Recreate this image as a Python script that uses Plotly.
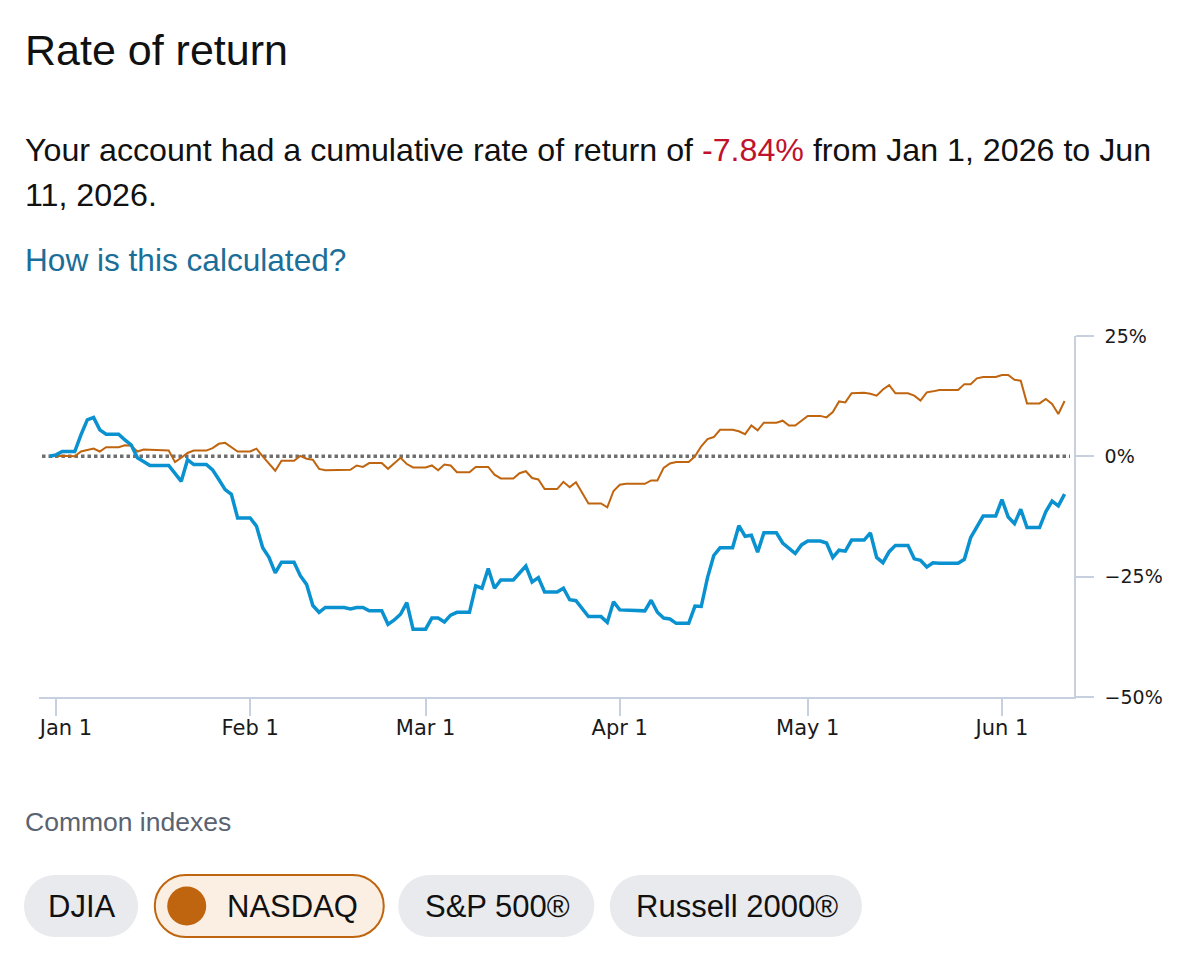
import plotly.graph_objects as go

# ---------------- data ----------------
account_dates = [
    "2025-12-31", "2026-01-01", "2026-01-02", "2026-01-04", "2026-01-05", "2026-01-06", "2026-01-07",
    "2026-01-08", "2026-01-09", "2026-01-11", "2026-01-12", "2026-01-13", "2026-01-14", "2026-01-15",
    "2026-01-16", "2026-01-19", "2026-01-21", "2026-01-22", "2026-01-23", "2026-01-25", "2026-01-26",
    "2026-01-27", "2026-01-28", "2026-01-29", "2026-01-30", "2026-02-01", "2026-02-02", "2026-02-03",
    "2026-02-04", "2026-02-05", "2026-02-06", "2026-02-08", "2026-02-09", "2026-02-10", "2026-02-11",
    "2026-02-12", "2026-02-13", "2026-02-16", "2026-02-17", "2026-02-18", "2026-02-19", "2026-02-20",
    "2026-02-22", "2026-02-23", "2026-02-24", "2026-02-25", "2026-02-26", "2026-02-27", "2026-03-01",
    "2026-03-02", "2026-03-03", "2026-03-04", "2026-03-05", "2026-03-06", "2026-03-08", "2026-03-09",
    "2026-03-10", "2026-03-11", "2026-03-12", "2026-03-13", "2026-03-15", "2026-03-17", "2026-03-18",
    "2026-03-19", "2026-03-20", "2026-03-22", "2026-03-23", "2026-03-24", "2026-03-25", "2026-03-27",
    "2026-03-29", "2026-03-30", "2026-03-31", "2026-04-01", "2026-04-05", "2026-04-06", "2026-04-07",
    "2026-04-08", "2026-04-09", "2026-04-10", "2026-04-12", "2026-04-13", "2026-04-14", "2026-04-15",
    "2026-04-16", "2026-04-17", "2026-04-19", "2026-04-20", "2026-04-21", "2026-04-22", "2026-04-23",
    "2026-04-24", "2026-04-26", "2026-04-27", "2026-04-29", "2026-04-30", "2026-05-01", "2026-05-03",
    "2026-05-04", "2026-05-05", "2026-05-06", "2026-05-07", "2026-05-08", "2026-05-10", "2026-05-11",
    "2026-05-12", "2026-05-13", "2026-05-14", "2026-05-15", "2026-05-17", "2026-05-18", "2026-05-19",
    "2026-05-20", "2026-05-21", "2026-05-22", "2026-05-25", "2026-05-26", "2026-05-27", "2026-05-29",
    "2026-05-31", "2026-06-01", "2026-06-02", "2026-06-03", "2026-06-04", "2026-06-05", "2026-06-07",
    "2026-06-08", "2026-06-09", "2026-06-10", "2026-06-11",
]
account_returns = [
    0.0, 0.3, 1.0, 1.0, 4.5, 7.6, 8.1,
    5.5, 4.6, 4.6, 3.4, 2.4, -0.3, -1.0,
    -1.9, -1.9, -5.2, -0.7, -1.7, -1.7, -2.8,
    -4.8, -6.9, -7.9, -12.8, -12.8, -14.5, -19.0,
    -21.0, -24.2, -22.0, -22.0, -24.8, -26.6, -31.0,
    -32.4, -31.4, -31.4, -31.7, -31.4, -31.4, -32.1,
    -32.1, -34.9, -34.0, -32.8, -30.4, -35.9, -35.9,
    -33.6, -33.6, -34.4, -33.0, -32.4, -32.4, -26.9,
    -27.4, -23.3, -27.4, -25.7, -25.7, -22.8, -26.1,
    -25.2, -28.2, -28.2, -27.4, -29.8, -30.0, -33.3,
    -33.3, -34.5, -30.2, -31.9, -32.1, -29.9, -32.4,
    -33.6, -33.8, -34.7, -34.7, -31.1, -31.2, -25.2,
    -20.6, -19.0, -19.0, -14.4, -16.6, -16.4, -19.9,
    -15.9, -15.9, -18.0, -20.2, -18.4, -17.6, -17.6,
    -18.0, -21.0, -19.5, -19.7, -17.4, -17.4, -15.9,
    -21.0, -22.1, -19.8, -18.5, -18.5, -21.3, -21.6,
    -23.0, -22.1, -22.2, -22.2, -21.4, -16.9, -12.4,
    -12.4, -9.0, -12.6, -14.0, -11.0, -14.8, -14.8,
    -11.5, -9.3, -10.3, -7.84,
]

nasdaq_dates = [
    "2025-12-31", "2026-01-02", "2026-01-04", "2026-01-05", "2026-01-07", "2026-01-08", "2026-01-09",
    "2026-01-11", "2026-01-12", "2026-01-13", "2026-01-14", "2026-01-15", "2026-01-19", "2026-01-20",
    "2026-01-21", "2026-01-22", "2026-01-23", "2026-01-25", "2026-01-26", "2026-01-27", "2026-01-28",
    "2026-01-29", "2026-01-30", "2026-02-01", "2026-02-02", "2026-02-03", "2026-02-05", "2026-02-06",
    "2026-02-08", "2026-02-09", "2026-02-10", "2026-02-11", "2026-02-12", "2026-02-13", "2026-02-16",
    "2026-02-17", "2026-02-18", "2026-02-19", "2026-02-20", "2026-02-22", "2026-02-23", "2026-02-25",
    "2026-02-26", "2026-02-27", "2026-03-01", "2026-03-02", "2026-03-03", "2026-03-04", "2026-03-05",
    "2026-03-06", "2026-03-08", "2026-03-09", "2026-03-11", "2026-03-12", "2026-03-13", "2026-03-15",
    "2026-03-16", "2026-03-17", "2026-03-18", "2026-03-19", "2026-03-20", "2026-03-22", "2026-03-23",
    "2026-03-24", "2026-03-25", "2026-03-26", "2026-03-27", "2026-03-29", "2026-03-30", "2026-03-31",
    "2026-04-01", "2026-04-02", "2026-04-05", "2026-04-06", "2026-04-07", "2026-04-08", "2026-04-09",
    "2026-04-10", "2026-04-12", "2026-04-13", "2026-04-14", "2026-04-15", "2026-04-16", "2026-04-17",
    "2026-04-19", "2026-04-20", "2026-04-21", "2026-04-22", "2026-04-23", "2026-04-24", "2026-04-26",
    "2026-04-27", "2026-04-28", "2026-04-29", "2026-04-30", "2026-05-01", "2026-05-03", "2026-05-04",
    "2026-05-05", "2026-05-06", "2026-05-07", "2026-05-08", "2026-05-10", "2026-05-11", "2026-05-12",
    "2026-05-13", "2026-05-14", "2026-05-15", "2026-05-17", "2026-05-18", "2026-05-19", "2026-05-20",
    "2026-05-21", "2026-05-22", "2026-05-25", "2026-05-26", "2026-05-27", "2026-05-28", "2026-05-29",
    "2026-05-31", "2026-06-01", "2026-06-02", "2026-06-03", "2026-06-04", "2026-06-05", "2026-06-07",
    "2026-06-08", "2026-06-09", "2026-06-10", "2026-06-11",
]
nasdaq_returns = [
    0.0, 0.1, 0.0, 1.0, 1.6, 1.0, 1.9,
    1.9, 2.3, 2.2, 1.0, 1.4, 1.2, -1.2,
    -0.3, 0.7, 1.2, 1.2, 1.7, 2.6, 2.8,
    1.9, 1.0, 1.0, 1.6, 0.0, -3.0, -0.9,
    -0.9, 0.1, -0.5, -0.7, -2.6, -2.9, -2.9,
    -2.8, -1.9, -2.2, -1.4, -1.4, -2.6, -0.3,
    -1.6, -2.3, -2.3, -1.9, -2.9, -1.7, -1.9,
    -3.3, -3.3, -2.2, -2.2, -3.8, -4.6, -4.6,
    -3.5, -3.1, -4.5, -4.8, -6.8, -6.8, -5.3,
    -6.4, -5.4, -7.6, -9.8, -9.8, -10.6, -7.2,
    -5.9, -5.7, -5.7, -5.0, -5.0, -2.4, -1.5,
    -1.2, -1.2, 0.0, 2.1, 3.6, 4.0, 5.5,
    5.5, 5.2, 4.6, 6.4, 5.4, 7.0, 7.0,
    7.4, 6.4, 6.4, 7.4, 8.4, 8.4, 8.1,
    9.2, 11.4, 11.2, 13.1, 13.2, 13.0, 12.6,
    13.9, 14.8, 13.1, 13.1, 12.6, 11.6, 13.3,
    13.5, 13.8, 13.8, 15.0, 15.0, 16.2, 16.5,
    16.5, 16.9, 16.9, 15.9, 15.7, 11.0, 11.0,
    11.9, 10.9, 8.8, 11.5,
]

x_tick_dates = ["2026-01-01", "2026-02-01", "2026-03-01", "2026-04-01", "2026-05-01", "2026-06-01"]
x_tick_labels = ["Jan 1", "Feb 1", "Mar 1", "Apr 1", "May 1", "Jun 1"]
y_tick_values = [-50, -25, 0, 25]
y_tick_labels = ["\u221250%", "\u221225%", "0%", "25%"]
index_names = ["DJIA", "NASDAQ", "S&P 500®", "Russell 2000®"]

# ---------------- styling ----------------
OFF = 8                     # page body margin of the html page
W, H = 1200 - OFF, 963 - OFF
# plot-area box in screen pixels
SL, SR, ST, SB = 37, 1074, 336, 697
BLUE = "#0a91cf"
ORANGE = "#c0650f"
AXIS = "#c6d0de"
TEXT_FONT = "Liberation Sans, Arial, sans-serif"
AXIS_FONT = "DejaVu Sans, Verdana, sans-serif"


def px(x):
    return (x - SL) / (SR - SL)


def py(y):
    return (SB - y) / (SB - ST)


# the first date label is nudged right so that it stays inside the plot edge
x_tick_text = ["\u00a0\u00a0\u00a0" + x_tick_labels[0]] + x_tick_labels[1:]

fig = go.Figure()

fig.add_trace(go.Scatter(
    x=nasdaq_dates, y=nasdaq_returns, mode="lines", name="NASDAQ",
    line=dict(color=ORANGE, width=2), hoverinfo="skip"))
fig.add_trace(go.Scatter(
    x=account_dates, y=account_returns, mode="lines", name="Account",
    line=dict(color=BLUE, width=3.5), hoverinfo="skip"))

shapes = []
# dotted zero line
shapes.append(dict(type="line", xref="paper", yref="y", x0=px(40), x1=px(1070), y0=0, y1=0,
                   line=dict(color="#6f6f6f", width=3.5, dash="3.5px,3px"), layer="below"))

# index pills
pill_boxes = [(22, 136), (153, 382), (397, 593), (609, 861)]
pill_yc, pill_h = 906, 62


def pill_path(w, h):
    r = h / 2
    k = 0.5523 * r
    return (f"M {r},{-r} L {w - r},{-r} C {w - r + k},{-r} {w},{-k} {w},0 "
            f"C {w},{k} {w - r + k},{r} {w - r},{r} L {r},{r} "
            f"C {r - k},{r} 0,{k} 0,0 C 0,{-k} {r - k},{-r} {r},{-r} Z")


annotations = []
for name, (x0, x1) in zip(index_names, pill_boxes):
    active = name == "NASDAQ"
    shapes.append(dict(
        type="path", xref="paper", yref="paper", xsizemode="pixel", ysizemode="pixel",
        xanchor=px(x0), yanchor=py(pill_yc), path=pill_path(x1 - x0, pill_h),
        fillcolor="#fbeee2" if active else "#e8eaed",
        line=dict(color=ORANGE if active else "rgba(0,0,0,0)", width=2 if active else 0),
        layer="above"))
    if active:
        shapes.append(dict(
            type="circle", xref="paper", yref="paper", xsizemode="pixel", ysizemode="pixel",
            xanchor=px(185), yanchor=py(pill_yc), x0=-19.5, x1=19.5, y0=-19.5, y1=19.5,
            fillcolor=ORANGE, line=dict(width=0), layer="above"))
        cx = 291
    else:
        cx = (x0 + x1) / 2 + 1
    annotations.append(dict(
        text=name, xref="paper", yref="paper", x=px(cx), y=py(pill_yc),
        xanchor="center", yanchor="middle", showarrow=False,
        font=dict(family=TEXT_FONT, size=31, color="#111111")))

final_return = account_returns[-1]
texts = [
    ("Rate of return", 21, 50, 43, "#111111"),
    ("Your account had a cumulative rate of return of "
     f"<span style='color:#c0122c'>{final_return:.2f}%</span> from Jan 1, 2026 to Jun",
     21, 150, 32.2, "#111111"),
    ("11, 2026.", 21, 195, 32.2, "#111111"),
    ("How is this calculated?", 21, 260, 31.6, "#1a6e98"),
    ("Common indexes", 21, 822, 26.5, "#5a6371"),
]
for t, x, y, s, c in texts:
    annotations.append(dict(
        text=t, xref="paper", yref="paper", x=px(x), y=py(y),
        xanchor="left", yanchor="middle", showarrow=False, align="left",
        font=dict(family=TEXT_FONT, size=s, color=c)))

fig.update_layout(
    width=W, height=H,
    margin=dict(l=SL - OFF, r=W - (SR - OFF), t=ST - OFF, b=H - (SB - OFF), pad=0),
    paper_bgcolor="white", plot_bgcolor="white",
    showlegend=False,
    shapes=shapes, annotations=annotations,
    xaxis=dict(
        type="date", range=["2025-12-29 07:00", "2026-06-12 12:00"],
        tickvals=x_tick_dates, ticktext=x_tick_text,
        showline=True, linecolor=AXIS, linewidth=1.5,
        ticks="outside", ticklen=17, tickwidth=1.5, tickcolor=AXIS,
        ticklabelstandoff=-6,
        showgrid=False, zeroline=False,
        tickfont=dict(family=AXIS_FONT, size=21, color="#1a1a1a")),
    yaxis=dict(
        range=[-50, 25], side="right",
        tickvals=y_tick_values, ticktext=y_tick_labels,
        showline=True, linecolor=AXIS, linewidth=1.5,
        ticks="outside", ticklen=18, tickwidth=1.5, tickcolor=AXIS,
        ticklabelstandoff=7,
        showgrid=False, zeroline=False,
        tickfont=dict(family=AXIS_FONT, size=19, color="#1a1a1a")),
)

fig.write_html("out.html")
